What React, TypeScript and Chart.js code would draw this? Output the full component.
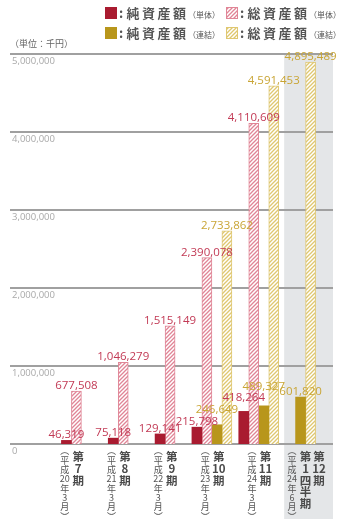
import React, { useEffect, useRef } from 'react';
import { Chart, registerables } from 'chart.js';

Chart.register(...registerables);

// ---- data ----
const periods = ['第7期', '第8期', '第9期', '第10期', '第11期', '第12期'];
const subPeriods = ['', '', '', '', '', '第1四半期'];
const dates = ['平成20年3月', '平成21年3月', '平成22年3月', '平成23年3月', '平成24年3月', '平成24年6月'];
const netAssetsSingle = [46319, 75118, 129141, 215798, 418264, null];
const totalAssetsSingle = [677508, 1046279, 1515149, 2390078, 4110609, null];
const netAssetsConsol = [null, null, null, 246649, 489327, 601820];
const totalAssetsConsol = [null, null, null, 2733862, 4591453, 4895489];
const yTicks = [0, 1000000, 2000000, 3000000, 4000000, 5000000];
const unitLabel = '（単位：千円）';
const legendNames = ['純資産額', '総資産額', '純資産額', '総資産額'];
const legendSubs = ['（単体）', '（単体）', '（連結）', '（連結）'];

// ---- styles ----
const RED = '#a91b30';
const GOLD = '#b8961b';
const RED_HATCH = '#e08596';
const GOLD_HATCH = '#dfc770';
const RED_TEXT = '#c23a55';
const GOLD_TEXT = '#c9a535';
const GRID_LEFT = 10;
const GRID_RIGHT = 333;
// extra upward nudges for crowded value labels (dataset -> per category)
const labelNudge: number[][] = [
  [0, 0, 0, 0, 8, 0],
  [0, 0, 0, 0, 0, 0],
  [0, 0, 0, 10, 14, 0],
  [0, 0, 0, 0, 0, 0],
];

function makeHatch(color: string): CanvasPattern | string {
  const c = document.createElement('canvas');
  c.width = 4;
  c.height = 4;
  const g = c.getContext('2d');
  if (!g) return color;
  g.fillStyle = '#ffffff';
  g.fillRect(0, 0, 4, 4);
  g.strokeStyle = color;
  g.lineWidth = 1.3;
  g.beginPath();
  g.moveTo(-1, 5);
  g.lineTo(5, -1);
  g.moveTo(-1, 1);
  g.lineTo(1, -1);
  g.moveTo(3, 5);
  g.lineTo(5, 3);
  g.stroke();
  return g.createPattern(c, 'repeat') || color;
}

function tokens(s: string): string[] {
  return s.match(/\d+|./gu) || [];
}

export default function App() {
  const ref = useRef<HTMLCanvasElement>(null);

  useEffect(() => {
    if (!ref.current) return;
    const redHatch = makeHatch(RED_HATCH);
    const goldHatch = makeHatch(GOLD_HATCH);
    const swatches: any[] = [RED, redHatch, GOLD, goldHatch];
    const swatchBorders = [RED, RED_HATCH, GOLD, GOLD_HATCH];
    const textColors = [RED_TEXT, RED_TEXT, GOLD_TEXT, GOLD_TEXT];

    const deco = {
      id: 'deco',
      beforeDatasetsDraw(chart: any) {
        const { ctx, chartArea, scales } = chart;
        const x = scales.x;
        const y = scales.y;
        const n = periods.length;
        const w = (chartArea.right - chartArea.left) / n;
        const bx = x.getPixelForValue(n - 1) - w / 2 + 2;
        ctx.save();
        ctx.fillStyle = '#e4e6e8';
        ctx.fillRect(bx, chartArea.top, GRID_RIGHT - bx, chart.height - chartArea.top);
        ctx.strokeStyle = '#a0a0a0';
        ctx.lineWidth = 2;
        ctx.font = '9.5px "Open Sans"';
        ctx.textAlign = 'left';
        ctx.textBaseline = 'top';
        yTicks.forEach((v) => {
          const py = Math.round(y.getPixelForValue(v));
          ctx.beginPath();
          ctx.moveTo(GRID_LEFT, py);
          ctx.lineTo(GRID_RIGHT, py);
          ctx.stroke();
          ctx.fillStyle = '#a9a9a9';
          ctx.fillText(v.toLocaleString('en-US'), GRID_LEFT + 2, py + 3);
        });
        ctx.restore();
      },
      afterDatasetsDraw(chart: any) {
        const { ctx, scales } = chart;
        const x = scales.x;
        ctx.save();
        // value labels
        ctx.font = '11.5px "Open Sans"';
        ctx.textAlign = 'center';
        ctx.textBaseline = 'alphabetic';
        chart.data.datasets.forEach((ds: any, di: number) => {
          const meta = chart.getDatasetMeta(di);
          ds.data.forEach((v: number | null, i: number) => {
            if (v == null) return;
            const el = meta.data[i];
            ctx.fillStyle = textColors[di];
            ctx.fillText(v.toLocaleString('en-US'), el.x, el.y - 2 - labelNudge[di][i]);
          });
        });

        // category labels (vertical)
        ctx.textAlign = 'center';
        ctx.textBaseline = 'middle';
        periods.forEach((p, i) => {
          const cx = x.getPixelForValue(i);
          const cols: { toks: string[]; big: boolean }[] = [];
          cols.push({ toks: ['︵', ...tokens(dates[i]), '︶'], big: false });
          if (subPeriods[i]) cols.push({ toks: tokens(subPeriods[i]), big: true });
          cols.push({ toks: tokens(p), big: true });
          const gap = 13.5;
          const startX = cx - ((cols.length - 1) * gap) / 2;
          cols.forEach((col, ci) => {
            const colX = startX + ci * gap;
            col.toks.forEach((t, ti) => {
              if (col.big) {
                ctx.font = 'bold 11.5px "Noto Sans CJK JP"';
                ctx.fillStyle = '#4a4a4a';
                ctx.fillText(t, colX, 457 + ti * 11.6);
              } else {
                ctx.font = '9px "Noto Sans CJK JP"';
                ctx.fillStyle = '#555555';
                ctx.fillText(t, colX, 451 + ti * 9.3);
              }
            });
          });
        });

        // legend
        const colsX = [105, 226];
        const rowsY = [7, 27];
        legendNames.forEach((name, k) => {
          const sx = colsX[k % 2];
          const sy = rowsY[Math.floor(k / 2)];
          ctx.fillStyle = swatches[k];
          ctx.fillRect(sx, sy, 12, 12);
          if (k % 2 === 1) {
            ctx.strokeStyle = swatchBorders[k];
            ctx.lineWidth = 1;
            ctx.strokeRect(sx + 0.5, sy + 0.5, 11, 11);
          }
          const cy = sy + 6.5;
          ctx.fillStyle = '#555555';
          ctx.font = 'bold 13px "Noto Sans CJK JP"';
          ctx.textAlign = 'center';
          ctx.textBaseline = 'middle';
          ctx.fillText(':', sx + 16, cy);
          const chars = Array.from(name);
          chars.forEach((ch, ci) => {
            ctx.fillText(ch, sx + 28 + ci * 15.5, cy);
          });
          ctx.font = '8px "Noto Sans CJK JP"';
          ctx.textAlign = 'left';
          ctx.fillText(legendSubs[k], sx + 20 + chars.length * 15.5 + 1, cy + 1);
        });

        // unit label
        ctx.font = '9px "Noto Sans CJK JP"';
        ctx.fillStyle = '#666666';
        ctx.textAlign = 'left';
        ctx.textBaseline = 'middle';
        ctx.fillText(unitLabel, GRID_LEFT, 44);
        ctx.restore();
      },
    };

    const chart = new Chart(ref.current, {
      type: 'bar',
      data: {
        labels: periods,
        datasets: [
          { label: '純資産額（単体）', data: netAssetsSingle, backgroundColor: RED, borderWidth: 0 },
          { label: '総資産額（単体）', data: totalAssetsSingle, backgroundColor: redHatch as any, borderColor: RED_HATCH, borderWidth: 1 },
          { label: '純資産額（連結）', data: netAssetsConsol, backgroundColor: GOLD, borderWidth: 0 },
          { label: '総資産額（連結）', data: totalAssetsConsol, backgroundColor: goldHatch as any, borderColor: GOLD_HATCH, borderWidth: 1 },
        ] as any,
      },
      options: {
        responsive: false,
        animation: false,
        datasets: { bar: { barThickness: 10, skipNull: true } } as any,
        layout: { padding: { left: 48, right: 12, top: 54, bottom: 75 } },
        scales: {
          x: { display: false, offset: true },
          y: { display: false, min: 0, max: 5000000 },
        },
        plugins: { legend: { display: false }, tooltip: { enabled: false } },
      },
      plugins: [deco],
    });
    return () => chart.destroy();
  }, []);

  return (
    <div style={{ position: 'absolute', left: 0, top: 0, width: 341, height: 519, background: '#fff' }}>
      <canvas ref={ref} width={341} height={519} style={{ display: 'block', width: 341, height: 519 }} />
    </div>
  );
}
